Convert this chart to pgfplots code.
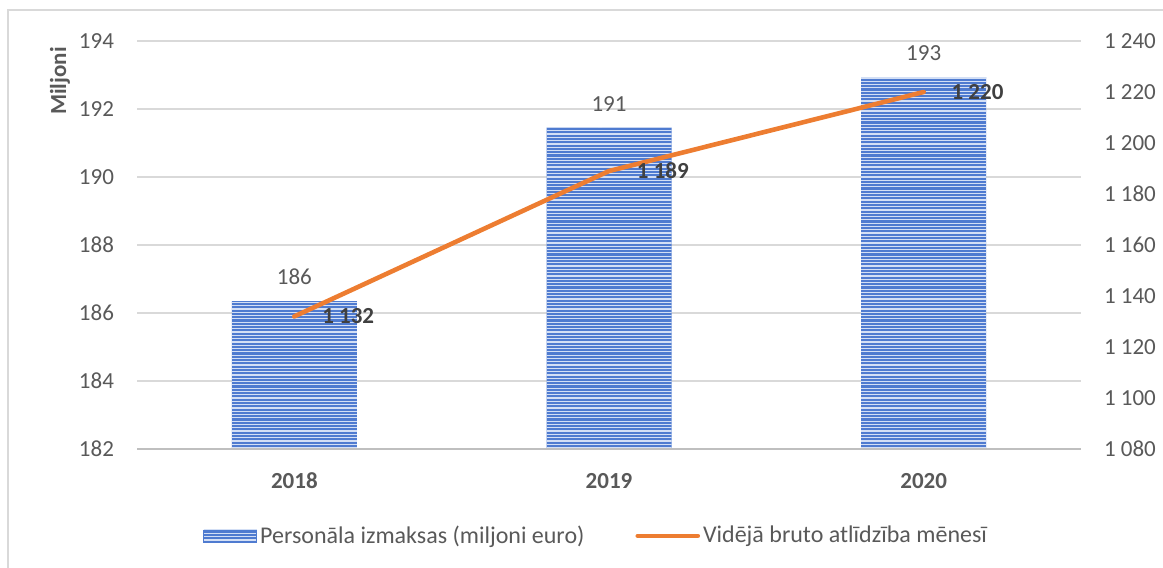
\documentclass[border=0pt]{standalone}
\usepackage{fontspec}
\setmainfont{Carlito}
\usepackage{pgfplots}
\pgfplotsset{compat=1.18}
\usetikzlibrary{patterns}
\pgfdeclarepatternformonly{hstripes}{\pgfpoint{-1pt}{0pt}}{\pgfpoint{101pt}{1.65pt}}{\pgfpoint{100pt}{1.65pt}}{%
  \pgfsetlinewidth{0.6pt}%
  \pgfpathmoveto{\pgfpoint{-1pt}{0.825pt}}%
  \pgfpathlineto{\pgfpoint{101pt}{0.825pt}}%
  \pgfusepath{stroke}}
\definecolor{txt}{HTML}{595959}
\definecolor{lbl}{HTML}{404040}
\definecolor{gridc}{HTML}{D9D9D9}
\definecolor{axl}{HTML}{BFBFBF}
\definecolor{org}{HTML}{ED7D31}
\definecolor{barb}{HTML}{4F7BD0}
\definecolor{barl}{HTML}{D3DFF5}
\begin{document}
\begin{tikzpicture}
\begin{axis}[
  at={(68.5pt,59.5pt)}, anchor=south west, scale only axis,
  width=472pt, height=204pt,
  xmin=-0.5, xmax=2.5, ymin=182, ymax=194,
  ytick={182,184,...,194}, xtick={0,1,2}, xticklabels={2018,2019,2020},
  axis line style={draw=none}, major tick length=0pt,
  ymajorgrids, grid style={gridc, line width=0.6pt},
  /pgf/number format/assume math mode=true,
  yticklabel style={font=\fontsize{11.5}{13}\selectfont, text=txt, xshift=-8pt},
  xticklabel style={font=\fontsize{11.5}{13}\selectfont\bfseries, text=txt, anchor=center, yshift=-16pt},
  clip=false,
]
\addplot[ybar, bar width=62.5pt, fill=barb, draw=none,
  postaction={pattern=hstripes, pattern color=barl},
  nodes near coords, point meta=explicit symbolic,
  every node near coord/.style={anchor=center, yshift=12pt, font=\fontsize{11.5}{13}\selectfont, text=txt}]
  coordinates {(0,186.35)[186] (1,191.45)[191] (2,192.94)[193]};
\draw[axl, line width=1.3pt] (rel axis cs:0,0) -- (rel axis cs:1,0);
\end{axis}
\begin{axis}[
  at={(68.5pt,59.5pt)}, anchor=south west, scale only axis,
  width=472pt, height=204pt,
  xmin=-0.5, xmax=2.5, ymin=1080, ymax=1240,
  axis y line*=right, axis x line=none,
  axis line style={draw=none}, major tick length=0pt,
  ytick={1080,1100,...,1240},
  yticklabels={1 080,1 100,1 120,1 140,1 160,1 180,1 200,1 220,1 240},
  yticklabel style={font=\fontsize{11.5}{13}\selectfont, text=txt, anchor=west, xshift=8pt},
  clip=false,
  legend style={at={(0.487,-0.213)}, anchor=center, draw=none, fill=none,
    legend columns=2, /tikz/every even column/.append style={column sep=24pt},
    nodes={inner sep=1.5pt, font=\fontsize{12}{14}\selectfont, text=txt}},
]
\addlegendimage{legend image code/.code={\fill[barb, postaction={pattern=hstripes, pattern color=barl}] (0pt,-3pt) rectangle (26.5pt,3pt);}}
\addlegendentry{Personāla izmaksas (miljoni euro)}
\addplot[org, line width=2.3pt, line cap=round,
  legend image code/.code={\draw[org, line width=2.3pt, line cap=round] (0pt,0pt) -- (30pt,0pt);},
  nodes near coords, point meta=explicit symbolic,
  every node near coord/.style={anchor=west, xshift=9.5pt, font=\fontsize{11.5}{13}\selectfont\bfseries, text=lbl}]
  coordinates {(0,1132)[1 132] (1,1189)[1 189] (2,1220)[1 220]};
\addlegendentry{Vidējā bruto atlīdzība mēnesī}
\end{axis}
\node[rotate=90, font=\fontsize{11.5}{13}\selectfont\bfseries, text=txt] at (30pt,243.5pt) {Miljoni};
\draw[gridc, line width=0.7pt] (4pt,0pt) -- (4pt,279pt) -- (581.5pt,279pt);
\pgfresetboundingbox
\useasboundingbox (0pt,0pt) rectangle (581.5pt,284pt);
\end{tikzpicture}
\end{document}
